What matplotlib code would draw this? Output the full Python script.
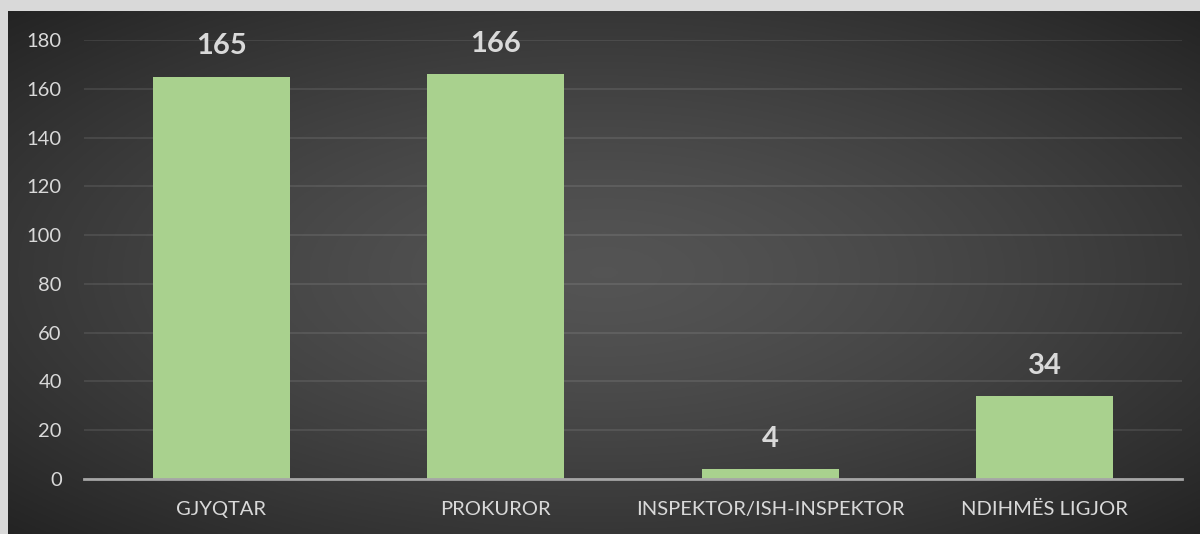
import numpy as np
import matplotlib
matplotlib.use("Agg")
import matplotlib.pyplot as plt

# data
categories = ["GJYQTAR", "PROKUROR", "INSPEKTOR/ISH-INSPEKTOR", "NDIHMËS LIGJOR"]
values = [165, 166, 4, 34]
yticks = [0, 20, 40, 60, 80, 100, 120, 140, 160, 180]

plt.rcParams['font.family'] = ['Lato', 'DejaVu Sans']

fig = plt.figure(figsize=(12, 5.34), dpi=100)
fig.patch.set_facecolor("#d9d9d9")

# dark panel with radial gradient
bg = fig.add_axes([8 / 1200, 0, 1192 / 1200, 523 / 534])
bg.set_axis_off()
gx, gy = np.meshgrid(np.linspace(-1, 1, 600), np.linspace(-1, 1, 270))
r = np.sqrt(gx ** 2 + gy ** 2) / np.sqrt(2)
shade = 0.33 - 0.19 * r ** 1.4
bg.imshow(np.dstack([shade] * 3), aspect="auto", extent=[0, 1, 0, 1])
bg.set_xlim(0, 1)
bg.set_ylim(0, 1)

ax = fig.add_axes([84 / 1200, 1 - 479 / 534, (1182 - 84) / 1200, (479 - 40) / 534])
ax.patch.set_alpha(0)
x = np.arange(len(categories))
ax.bar(x, values, width=0.5, color="#a9d18e", zorder=3)
ax.set_xlim(-0.5, len(categories) - 0.5)
ax.set_ylim(0, 180)
ax.set_yticks(yticks)
ax.set_xticks(x)
ax.set_xticklabels(categories)
ax.grid(axis="y", color="white", alpha=0.09, linewidth=1.5, zorder=0)
for s in ["top", "right", "left"]:
    ax.spines[s].set_visible(False)
ax.spines["bottom"].set_color("#a6a6a6")
ax.spines["bottom"].set_linewidth(2)
ax.spines["bottom"].set_zorder(4)
ax.tick_params(axis="y", length=0, pad=16, labelsize=14.5, labelcolor="#d9d9d9")
ax.tick_params(axis="x", length=0, pad=16, labelsize=14.5, labelcolor="#d9d9d9")

for xi, v in zip(x, values):
    ax.annotate(str(v), (xi, v), xytext=(0, 22), textcoords="offset points",
                ha="center", va="center", fontsize=21, fontweight="bold",
                color="#d9d9d9")

fig.savefig("out.png", dpi=100, facecolor=fig.get_facecolor())
